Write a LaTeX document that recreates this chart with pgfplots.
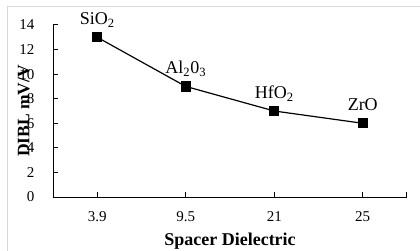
\documentclass[border=0pt]{standalone}
\usepackage{pgfplots}
\pgfplotsset{compat=1.18}
\usepackage{fontspec}
\setmainfont{Liberation Serif}
\begin{document}
\begin{tikzpicture}
\useasboundingbox (0,0) rectangle (420bp,251bp);
\draw[gray!30, line width=1bp] (7bp,0) -- (7bp,244bp) -- (420bp,244bp);
\begin{axis}[
  at={(53bp,54bp)}, anchor=south west,
  scale only axis, width=354bp, height=172bp,
  xmin=-0.5, xmax=3.5, ymin=0, ymax=14,
  axis lines=left, axis line style={-, line width=1bp},
  xtick={-0.5,0,1,2,3,3.5},
  xticklabels={,3.9,9.5,21,25,},
  ytick={0,2,...,14},
  tick style={black, line width=1bp},
  major tick length=5bp,
  tick align=inside,
  ticklabel style={font=\fontsize{15bp}{17bp}\selectfont},
  /pgf/number format/assume math mode=true,
  y tick label style={xshift=-15bp},
  x tick label style={yshift=-11bp},
  xlabel={\textbf{Spacer Dielectric}},
  ylabel={\textbf{DIBL mV/V}},
  label style={font=\fontsize{17.5bp}{20bp}\selectfont},
  xlabel style={at={(axis description cs:0.5,-0.259)}, anchor=center, font=\fontsize{18bp}{20bp}\selectfont},
  ylabel style={at={(axis description cs:-0.083,0.5)}, anchor=center, rotate=0},
  clip=false,
  nodes near coords,
  point meta=explicit symbolic,
  nodes near coords style={font=\fontsize{18bp}{20bp}\selectfont, anchor=base, yshift=12.5bp, text=black},
]
\addplot[black, line width=1.2bp, mark=square*, mark size=4.5bp, mark options={solid}]
  coordinates {
  (0,13) [SiO\textsubscript{2}]
  (1,9) [Al\textsubscript{2}0\textsubscript{3}]
  (2,7) [HfO\textsubscript{2}]
  (3,6) [ZrO]
  };
\end{axis}
\end{tikzpicture}
\end{document}
